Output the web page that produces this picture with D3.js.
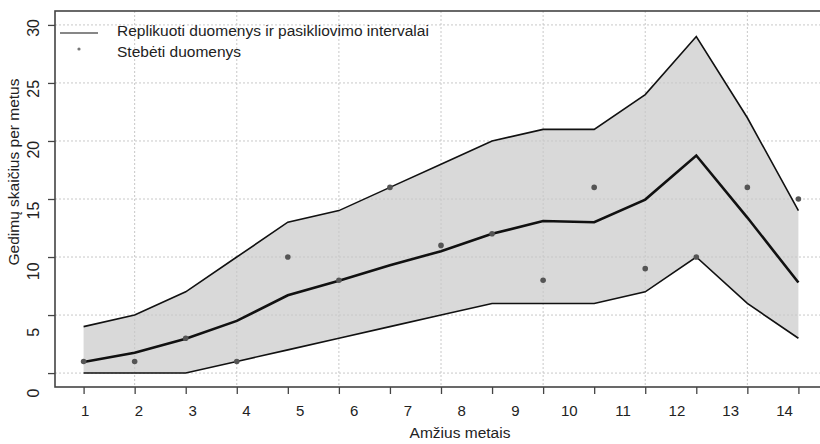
<!DOCTYPE html>
<html><head><meta charset="utf-8">
<script src="https://cdn.jsdelivr.net/npm/d3@7"></script>
<style>
html,body{margin:0;padding:0;background:#fff;}
svg{display:block;font-family:"Liberation Sans",Arial,sans-serif;}
</style></head>
<body>
<svg id="chart" width="820" height="444"></svg>
<script>
// ---- data ----
const ages = [1,2,3,4,5,6,7,8,9,10,11,12,13,14,15];
const upper = [4,5,7,10,13,14,16,18,20,21,21,24,29,22,14];
const meanRep = [0.95,1.75,2.95,4.5,6.7,7.95,9.3,10.5,12.0,13.1,13.0,14.95,18.75,13.4,7.8];
const lower = [0,0,0,1,2,3,4,5,6,6,6,7,10,6,3];
const observed = [1,1,3,1,10,8,16,11,12,8,16,9,10,16,15];
const xTickLabels = ["1","2","3","4","5","6","7","8","9","10","11","12","13","14"];
const yTicks = [0,5,10,15,20,25,30];
const legendLabels = ["Replikuoti duomenys ir pasikliovimo intervalai","Stebėti duomenys"];
const xTitle = "Amžius metais";
const yTitle = "Gedimų skaičius per metus";

(function(){
const svg = d3.select("#chart");
const pL = 55, pR = 827, pT = 11, pB = 387;

const x = d3.scaleLinear().domain([0.44, 15.56]).range([pL, pR]);
const y = d3.scaleLinear().domain([-1.2, 31.2]).range([pB, pT]);

const rows = ages.map((a,i)=>({a, lo:lower[i], hi:upper[i], m:meanRep[i], o:observed[i]}));

// band
svg.append("path").datum(rows)
  .attr("d", d3.area().x(d=>x(d.a)).y0(d=>y(d.lo)).y1(d=>y(d.hi)))
  .attr("fill", "#d9d9d9");

// grid
const gridG = svg.append("g");
gridG.selectAll("line.h").data(yTicks).join("line")
  .attr("x1", pL).attr("x2", pR).attr("y1", d=>y(d)).attr("y2", d=>y(d))
  .attr("stroke", "#c8c8c8").attr("stroke-dasharray","2,2").attr("stroke-width",1);
gridG.selectAll("line.v").data([2,4,6,8,10,12,14]).join("line")
  .attr("y1", pT).attr("y2", pB).attr("x1", d=>x(d)).attr("x2", d=>x(d))
  .attr("stroke", "#c8c8c8").attr("stroke-dasharray","2,2").attr("stroke-width",1);

// band edges
const lineGen = key => d3.line().x(d=>x(d.a)).y(d=>y(d[key]));
svg.append("path").datum(rows).attr("d", lineGen("hi")).attr("fill","none").attr("stroke","#111").attr("stroke-width",1.6);
svg.append("path").datum(rows).attr("d", lineGen("lo")).attr("fill","none").attr("stroke","#111").attr("stroke-width",1.6);
svg.append("path").datum(rows).attr("d", lineGen("m")).attr("fill","none").attr("stroke","#111").attr("stroke-width",2.6);

// observed points
svg.selectAll("circle.obs").data(rows).join("circle")
  .attr("cx", d=>x(d.a)).attr("cy", d=>y(d.o)).attr("r", 2.8).attr("fill", "#555");

// box
svg.append("rect").attr("x", pL).attr("y", pT).attr("width", pR-pL).attr("height", pB-pT)
  .attr("fill","none").attr("stroke","#444").attr("stroke-width",1.6);

// x axis ticks (no labels)
const xAxisG = svg.append("g").attr("transform", `translate(0,${pB})`)
  .call(d3.axisBottom(x).tickValues(ages).tickSize(7).tickFormat(""));
xAxisG.select(".domain").remove();
xAxisG.selectAll("line").attr("stroke","#444").attr("stroke-width",1.3);

// x tick labels
const xLab = d3.scaleLinear().domain([1,14]).range([x(1)+1, x(1)+1+13*53.8]);
const xLabG = svg.append("g").attr("transform", `translate(0,${pB})`)
  .call(d3.axisBottom(xLab).tickValues(d3.range(1,15)).tickSize(0).tickPadding(18).tickFormat((d,i)=>xTickLabels[i]));
xLabG.select(".domain").remove();
xLabG.selectAll("text").attr("font-size", 15).attr("fill","#222").attr("font-family","Liberation Sans, Arial, sans-serif");

// y axis ticks
const yAxisG = svg.append("g").attr("transform", `translate(${pL},0)`)
  .call(d3.axisLeft(y).tickValues(yTicks).tickSize(7).tickFormat(""));
yAxisG.select(".domain").remove();
yAxisG.selectAll("line").attr("stroke","#444").attr("stroke-width",1.3);

// y tick labels (rotated)
const yLab = d3.scaleLinear().domain([0,30]).range([y(0)+20, y(30)+3]);
svg.append("g").selectAll("text").data(yTicks).join("text")
  .attr("transform", d=>`translate(38.5,${yLab(d)}) rotate(-90)`)
  .attr("text-anchor","middle").attr("font-size",16).attr("fill","#222")
  .text(d=>d);

// axis titles
svg.append("text").attr("x", 460).attr("y", 438).attr("text-anchor","middle")
  .attr("font-size",15.5).attr("fill","#222").text(xTitle);
svg.append("text").attr("transform","translate(19,172) rotate(-90)").attr("text-anchor","middle")
  .attr("font-size",15.5).attr("fill","#222").text(yTitle);

// legend
svg.append("line").attr("x1",60).attr("x2",98).attr("y1",33).attr("y2",33).attr("stroke","#111").attr("stroke-width",1.2);
svg.append("circle").attr("cx",79).attr("cy",49).attr("r",1.6).attr("fill","#777");
svg.selectAll("text.leg").data(legendLabels).join("text")
  .attr("x",117).attr("y",(d,i)=>36+i*21).attr("font-size",15.5).attr("fill","#222").text(d=>d);
})();
</script>
</body></html>
